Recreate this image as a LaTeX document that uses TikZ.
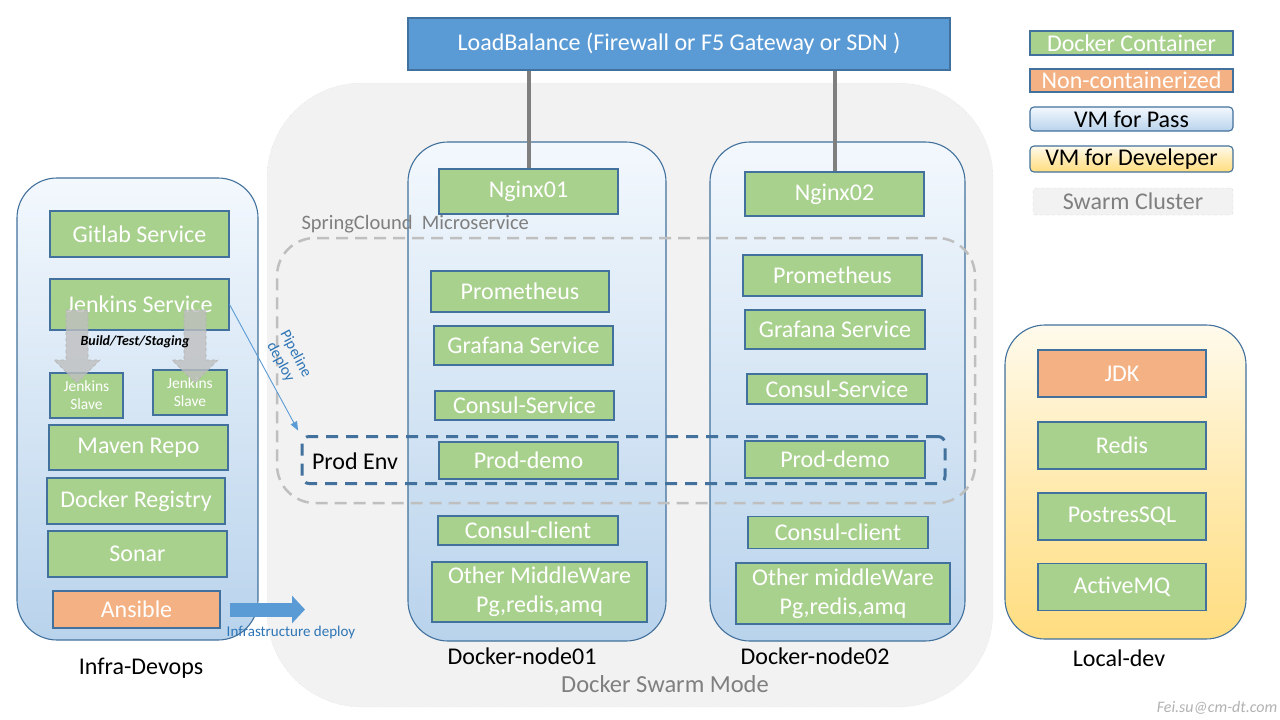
\documentclass[tikz,border=0pt]{standalone}
\usepackage{fontspec}
\setmainfont{Carlito}
\usepackage{tikz}
\usetikzlibrary{arrows.meta,positioning}

\definecolor{dcgreen}{HTML}{A9D18E}
\definecolor{ncorange}{HTML}{F4B183}
\definecolor{boxline}{HTML}{41719C}
\definecolor{lbblue}{HTML}{5B9BD5}
\definecolor{passtop}{HTML}{F3F8FD}
\definecolor{passbot}{HTML}{B9D3EC}
\definecolor{devtop}{HTML}{FFFAEC}
\definecolor{devmid}{HTML}{FFEAB0}
\definecolor{devbot}{HTML}{FFDD80}
\definecolor{swarmgray}{HTML}{F2F2F2}
\definecolor{dashgray}{HTML}{BFBFBF}
\definecolor{labgray}{HTML}{7F7F7F}
\definecolor{deployblue}{HTML}{2E75B6}

\newcommand{\boxfont}{\fontsize{24}{28}\selectfont}
\newcommand{\slavefont}{\fontsize{15.5}{18}\selectfont}

\tikzset{
  sz/.style 2 args={minimum width=#1pt, minimum height=#2pt},
  dc/.style={draw=boxline, line width=1.1pt, fill=dcgreen, text=white, inner sep=0pt, font=\boxfont, align=center},
  nc/.style={dc, fill=ncorange},
  vmpass/.style={draw=boxline, line width=1.1pt, rounded corners=40pt, top color=passtop, bottom color=passbot, inner sep=0pt},
  vmdev/.style={draw=boxline, line width=1.1pt, rounded corners=40pt, top color=devtop, bottom color=devbot, middle color=devmid, inner sep=0pt},
  caption/.style={font=\boxfont, text=black},
  swarmbox/.style={fill=swarmgray, draw=black!18, dotted, rounded corners=95pt},
  springbox/.style={draw=dashgray, line width=2.5pt, dash pattern=on 12pt off 7pt, rounded corners=38pt},
  prodbox/.style={draw=boxline, line width=3pt, dash pattern=on 12pt off 8pt, rounded corners=7pt},
  lbline/.style={draw=labgray, line width=4pt},
  slavearrow/.style={fill=black!25, fill opacity=0.8, draw=black!30, dashed, line width=0.6pt},
  pipearrow/.style={draw=lbblue, line width=0.9pt, -{Triangle[length=9pt,width=7pt]}},
  deployarrow/.style={draw=lbblue, line width=14pt, -{Triangle[length=13pt,width=27pt]}},
}

\begin{document}
\begin{tikzpicture}[x=1pt,y=-1pt]
\useasboundingbox (0,0) rectangle (1280,720);
\fill[white] (0,0) rectangle (1280,720);

% swarm area
\node[swarmbox, sz={726}{624}] (swarm) at (630,395) {};
\node[caption, text=labgray, font=\fontsize{24.5}{28}\selectfont] (swarmlbl) at (665,684) {Docker Swarm Mode};

% load balancer
\node[dc, fill=lbblue, sz={542}{52}] (lb) at (679,44) {LoadBalance (Firewall or F5 Gateway or SDN )};

% vm boxes
\node[vmpass, sz={241}{462}] (infra) at (137.5,409) {};
\node[vmpass, sz={258}{499}] (node1) at (537,391.5) {};
\node[vmpass, sz={255}{499}] (node2) at (837.5,391.5) {};
\node[vmdev, sz={241}{314}] (local) at (1125.5,482) {};
\node[caption] (infralbl) at (141,668) {Infra-Devops};
\node[caption] (node1lbl) at (522,656) {Docker-node01};
\node[caption] (node2lbl) at (815,656) {Docker-node02};
\node[caption] (locallbl) at (1119,658) {Local-dev};

% infra-devops
\node[dc, sz={179}{46}] (gitlab) at (139.5,234) {Gitlab Service};
\node[dc, sz={179}{51}] (jenkins) at (139.5,304.5) {Jenkins Service};
\node[dc, sz={73}{45}, font=\slavefont] (slave1) at (86.5,395.5) {Jenkins\\Slave};
\node[dc, sz={74}{45}, font=\slavefont] (slave2) at (190,392.5) {Jenkins\\Slave};
\node[dc, sz={179}{45}] (maven) at (138.5,447.5) {Maven Repo};
\node[dc, sz={178}{46}] (registry) at (136,501) {Docker Registry};
\node[dc, sz={179}{46}] (sonar) at (137.5,554) {Sonar};
\node[nc, sz={167}{37}] (ansible) at (136.5,609.5) {Ansible};

\foreach \ax in {77,195}
  \filldraw[slavearrow] (\ax-11,310) -- (\ax+11,310) -- (\ax+11,360) -- (\ax+23,360)
    -- (\ax,383) -- (\ax-23,360) -- (\ax-11,360) -- cycle;
\node[font=\fontsize{14}{16}\selectfont\bfseries\itshape] (btslbl) at (135,342) {Build/Test/Staging};

% docker-node01
\node[dc, sz={179}{45}] (nginx1) at (528.5,191.5) {Nginx01};
\node[dc, sz={178}{41}] (prom1) at (520,291.5) {Prometheus};
\node[dc, sz={179}{39}] (graf1) at (523.5,345.5) {Grafana Service};
\node[dc, sz={179}{29}] (consul1) at (524.5,405.5) {Consul-Service};
\node[dc, sz={179}{37}] (prod1) at (528.5,460.5) {Prod-demo};
\node[dc, sz={180}{29}] (client1) at (528,530.5) {Consul-client};
\node[dc, sz={215}{60}, font=\fontsize{24}{29}\selectfont] (mw1) at (539.5,592) {Other MiddleWare\\Pg,redis,amq};

% docker-node02
\node[dc, sz={179}{44}] (nginx2) at (834.5,194) {Nginx02};
\node[dc, sz={179}{41}] (prom2) at (832.5,275.5) {Prometheus};
\node[dc, sz={180}{39}] (graf2) at (835,329.5) {Grafana Service};
\node[dc, sz={180}{30}] (consul2) at (837,389) {Consul-Service};
\node[dc, sz={180}{37}] (prod2) at (835,459.5) {Prod-demo};
\node[dc, sz={180}{32}] (client2) at (838,532.5) {Consul-client};
\node[dc, sz={214}{61}, font=\fontsize{24}{29}\selectfont] (mw2) at (843,593.5) {Other middleWare\\Pg,redis,amq};

\draw[lbline] (lb.south -| nginx1) -- (nginx1.north);
\draw[lbline] (lb.south -| nginx2) -- (nginx2.north);

% dashed groups
\node[springbox, sz={698}{265}] (spring) at (626,370.5) {};
\node[anchor=west, text=labgray, font=\fontsize{20.5}{24}\selectfont] (springlbl) at (298,224) {SpringClound~ Microservice};
\node[prodbox, sz={643}{47}] (prodenv) at (623.5,460) {};
\node[caption] (prodlbl) at (355,461) {Prod Env};

% local-dev
\node[nc, sz={168}{47}] (jdk) at (1122,373.5) {JDK};
\node[dc, sz={168}{47}] (redis) at (1122,445.5) {Redis};
\node[dc, sz={168}{47}] (pg) at (1122,516.5) {PostresSQL};
\node[dc, sz={168}{47}] (amq) at (1122,587) {ActiveMQ};

% deploy arrows
\draw[pipearrow, shorten >=5pt] (jenkins.east) -- (prodenv.north west);
\node[rotate=-62, align=center, text=deployblue, font=\fontsize{15.5}{17}\selectfont] (pipelbl) at (288,358) {Pipeline\\deploy};
\coordinate (infratip) at (305,609.5);
\draw[deployarrow] ([xshift=9pt]ansible.east) -- (infratip);
\node[text=deployblue, font=\fontsize{15}{17}\selectfont] (infralbl2) at (291,632) {Infrastructure deploy};

% legend
\node[dc, sz={203}{24}] (legdc) at (1131.5,43) {Docker Container};
\node[nc, sz={203}{23}] (legnc) at (1131.5,80.5) {Non-containerized};
\node[vmpass, rounded corners=4pt, sz={203}{24}, font=\boxfont] (legpass) at (1131.5,119) {VM for Pass};
\node[vmdev, rounded corners=4pt, sz={203}{26}, font=\boxfont] (legdev) at (1131.5,159) {VM for Develeper};
\node[fill=swarmgray, draw=black!15, dashed, rounded corners=3pt, sz={200}{27}, inner sep=0pt, text=labgray, font=\boxfont] (legswarm) at (1133,201.5) {Swarm Cluster};

\node[text=black!30, font=\fontsize{16}{18}\selectfont\itshape] (sign) at (1217,708) {Fei.su@cm-dt.com};
\end{tikzpicture}
\end{document}
